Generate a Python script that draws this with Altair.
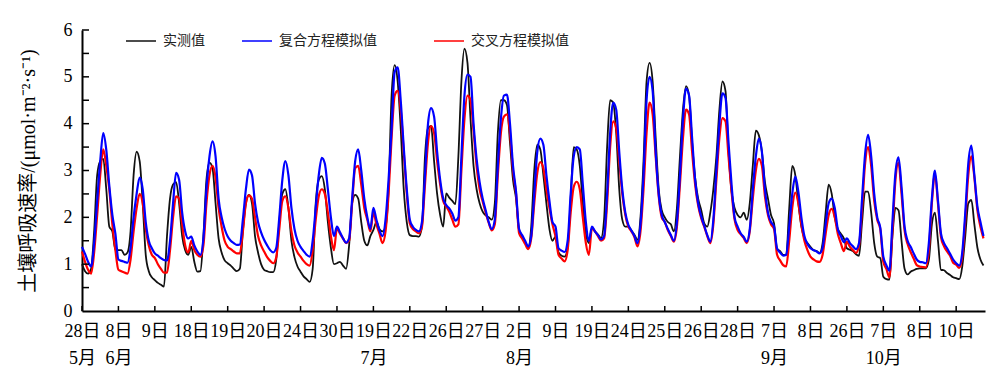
import json
import altair as alt
import pandas as pd

# ---- labels -------------------------------------------------------------
DAY_LABELS = ["28日", "8日", "9日", "18日", "19日", "20日", "24日", "30日", "19日", "22日",
              "26日", "27日", "2日", "9日", "19日", "24日", "25日", "26日", "28日", "7日",
              "8日", "26日", "7日", "8日", "10日"]
MONTH_LABELS = ["5月", "6月", "", "", "", "", "", "", "7月", "", "", "", "8月", "", "", "",
                "", "", "", "9月", "", "", "10月", "", ""]
SERIES = ["实测值", "复合方程模拟值", "交叉方程模拟值"]
COLORS = ["#111111", "#0000ff", "#ff0000"]
Y_TITLE = "土壤呼吸速率/(μmol·m⁻²·s⁻¹)"
STEP_HOURS = 2  # one reading every 2 h within each measured day

# ---- measured (black) -----------------------------------------------------
OBS = [
    [1.0, 0.85, 0.8, 0.9, 1.7, 2.9, 3.2, 3.25, 2.6, 1.8, 1.7, 1.3],
    [1.30, 1.30, 1.20, 1.25, 1.7, 2.9, 3.4, 3.2, 2.3, 1.2, 0.85, 0.72],
    [0.66, 0.6, 0.56, 0.52, 1.6, 2.4, 2.7, 2.75, 2.3, 1.6, 1.3, 1.2],
    [1.37, 1.05, 0.84, 0.85, 1.6, 2.8, 3.17, 3.05, 2.3, 1.55, 1.25, 1.08],
    [1.02, 0.97, 0.9, 0.85, 0.9, 1.7, 2.3, 2.48, 2.3, 1.6, 1.25, 1.0],
    [0.88, 0.85, 0.83, 0.83, 1.1, 1.9, 2.5, 2.6, 2.2, 1.5, 1.15, 0.95],
    [0.84, 0.74, 0.68, 0.62, 0.9, 2.3, 2.8, 2.88, 2.6, 1.9, 1.35, 1.0],
    [1.02, 1.05, 0.97, 0.9, 1.4, 2.3, 2.48, 2.4, 1.9, 1.5, 1.4, 1.6],
    [1.73, 1.9, 1.75, 1.7, 1.8, 2.6, 4.6, 5.25, 4.9, 3.9, 2.6, 1.9],
    [1.62, 1.6, 1.6, 1.59, 1.8, 3.3, 3.9, 3.95, 3.2, 2.5, 2.05, 1.8],
    [2.51, 2.42, 2.35, 2.28, 3.3, 4.9, 5.6, 5.3, 4.1, 3.1, 2.6, 2.3],
    [2.12, 2.04, 2.0, 1.95, 2.3, 3.8, 4.5, 4.5, 4.4, 3.6, 2.8, 2.4],
    [1.73, 1.6, 1.46, 1.36, 1.8, 3.0, 3.55, 3.45, 2.9, 2.3, 1.75, 1.5],
    [1.59, 1.25, 1.18, 1.16, 1.35, 2.4, 3.5, 3.45, 3.1, 2.3, 1.65, 1.45],
    [1.77, 1.7, 1.63, 1.56, 1.95, 3.5, 4.5, 4.45, 3.8, 2.6, 1.95, 1.8],
    [1.8, 1.72, 1.63, 1.52, 2.0, 3.2, 4.9, 5.3, 4.9, 3.7, 2.6, 2.15],
    [2.0, 1.9, 1.85, 1.7, 2.2, 3.3, 4.3, 4.8, 4.6, 3.6, 2.85, 2.4],
    [2.16, 1.87, 1.8, 2.1, 2.6, 3.3, 4.3, 4.9, 4.7, 3.4, 2.55, 2.2],
    [2.05, 2.0, 2.1, 1.95, 2.3, 3.1, 3.85, 3.75, 3.4, 2.75, 2.4, 2.05],
    [1.87, 1.33, 1.28, 1.2, 1.2, 2.2, 3.1, 2.9, 2.3, 1.8, 1.55, 1.45],
    [1.37, 1.3, 1.28, 1.24, 1.45, 2.1, 2.7, 2.5, 2.0, 1.75, 1.65, 1.55],
    [1.34, 1.31, 1.28, 1.21, 1.18, 1.9, 2.55, 2.55, 2.1, 1.45, 1.16, 1.13],
    [0.73, 0.68, 0.67, 1.6, 2.2, 2.15, 1.5, 0.9, 0.78, 0.84, 0.87, 0.9],
    [0.91, 0.91, 0.91, 1.09, 1.85, 2.1, 1.5, 0.88, 0.87, 0.81, 0.77, 0.72],
    [0.7, 0.68, 0.95, 1.6, 2.3, 2.37, 1.85, 1.35, 1.1, 0.97],
]

# ---- compound-equation model (blue) ---------------------------------------
COMP = [
    [1.37, 1.22, 1.05, 0.95, 1.45, 2.35, 3.2, 3.8, 3.44, 2.67, 2.05, 1.65],
    [1.10, 1.07, 1.05, 1.03, 1.35, 2.0, 2.5, 2.85, 2.6, 1.9, 1.5, 1.34],
    [1.23, 1.18, 1.13, 1.09, 1.08, 1.5, 2.3, 2.95, 2.8, 2.1, 1.7, 1.55],
    [1.59, 1.4, 1.27, 1.2, 1.55, 2.6, 3.3, 3.62, 3.3, 2.4, 2.0, 1.75],
    [1.59, 1.5, 1.45, 1.41, 1.42, 1.95, 2.6, 3.02, 2.9, 2.3, 1.9, 1.68],
    [1.52, 1.4, 1.3, 1.25, 1.35, 2.0, 2.8, 3.2, 2.9, 2.2, 1.75, 1.5],
    [1.37, 1.28, 1.2, 1.16, 1.5, 2.2, 2.9, 3.27, 3.15, 2.6, 2.0, 1.6],
    [1.8, 1.68, 1.55, 1.46, 1.55, 2.4, 3.2, 3.45, 3.0, 2.4, 2.0, 1.75],
    [2.2, 1.95, 1.72, 1.6, 1.95, 2.8, 3.9, 5.1, 5.2, 4.5, 3.5, 2.6],
    [1.95, 1.8, 1.73, 1.7, 1.9, 2.9, 4.0, 4.33, 4.15, 3.4, 2.8, 2.4],
    [2.26, 2.19, 2.08, 1.93, 2.0, 3.3, 4.6, 5.05, 5.0, 4.0, 3.25, 2.75],
    [2.4, 2.15, 1.9, 1.75, 1.95, 3.1, 4.1, 4.6, 4.62, 4.0, 3.1, 2.55],
    [1.75, 1.62, 1.5, 1.38, 1.6, 2.5, 3.4, 3.68, 3.55, 2.9, 2.35, 1.9],
    [1.8, 1.34, 1.29, 1.26, 1.5, 2.5, 3.3, 3.5, 3.45, 2.7, 1.9, 1.5],
    [1.8, 1.7, 1.62, 1.53, 1.6, 2.5, 3.8, 4.45, 4.3, 3.4, 2.6, 2.1],
    [1.84, 1.72, 1.6, 1.45, 1.85, 2.9, 4.5, 5.0, 4.7, 3.4, 2.5, 2.05],
    [1.9, 1.75, 1.62, 1.5, 1.9, 2.9, 4.1, 4.75, 4.6, 3.7, 2.8, 2.3],
    [2.02, 1.82, 1.62, 1.48, 1.95, 3.0, 4.0, 4.65, 4.55, 3.6, 2.7, 2.0],
    [1.8, 1.66, 1.58, 1.48, 1.75, 2.6, 3.3, 3.68, 3.4, 2.6, 2.1, 1.9],
    [1.8, 1.33, 1.25, 1.18, 1.2, 1.8, 2.5, 2.87, 2.55, 2.0, 1.6, 1.43],
    [1.34, 1.3, 1.27, 1.23, 1.35, 1.85, 2.3, 2.4, 2.2, 1.75, 1.6, 1.47],
    [1.55, 1.45, 1.38, 1.32, 1.45, 2.4, 3.35, 3.76, 3.3, 2.5, 2.0, 1.78],
    [1.16, 0.98, 0.86, 1.9, 2.95, 3.28, 2.65, 1.8, 1.5, 1.37, 1.23, 1.1],
    [1.05, 1.04, 1.02, 1.45, 2.4, 3.0, 2.36, 1.65, 1.45, 1.34, 1.22, 1.1],
    [1.02, 0.97, 1.25, 2.1, 3.15, 3.53, 2.9, 2.23, 1.9, 1.6],
]

# ---- cross-equation model (red) -------------------------------------------
CROSS = [
    [1.27, 1.05, 0.88, 0.8, 1.25, 2.05, 2.9, 3.45, 3.1, 2.59, 1.85, 1.3],
    [0.88, 0.85, 0.82, 0.80, 1.1, 1.7, 2.2, 2.5, 2.3, 1.75, 1.4, 1.2],
    [1.13, 1.0, 0.9, 0.82, 0.82, 1.3, 2.0, 2.45, 2.4, 1.85, 1.4, 1.25],
    [1.5, 1.3, 1.2, 1.16, 1.4, 2.3, 2.9, 3.1, 2.85, 2.2, 1.8, 1.5],
    [1.37, 1.32, 1.27, 1.23, 1.23, 1.7, 2.3, 2.47, 2.4, 2.0, 1.6, 1.4],
    [1.27, 1.15, 1.07, 1.02, 1.15, 1.75, 2.35, 2.45, 2.2, 1.7, 1.4, 1.25],
    [1.16, 1.07, 1.0, 0.97, 1.3, 1.95, 2.45, 2.6, 2.5, 2.1, 1.6, 1.3],
    [1.77, 1.65, 1.55, 1.45, 1.5, 2.3, 3.05, 3.1, 2.7, 2.2, 1.95, 1.7],
    [2.1, 1.85, 1.65, 1.45, 1.7, 2.5, 3.7, 4.6, 4.7, 4.3, 3.4, 2.5],
    [1.87, 1.75, 1.7, 1.66, 1.8, 2.7, 3.6, 3.95, 3.8, 3.2, 2.7, 2.35],
    [2.23, 2.12, 1.95, 1.8, 1.85, 3.0, 4.1, 4.6, 4.5, 3.85, 3.1, 2.6],
    [2.34, 2.1, 1.88, 1.72, 1.85, 2.9, 3.8, 4.15, 4.2, 3.8, 3.0, 2.5],
    [1.66, 1.55, 1.43, 1.32, 1.55, 2.3, 2.95, 3.18, 3.05, 2.6, 2.2, 1.85],
    [1.59, 1.2, 1.12, 1.06, 1.3, 2.1, 2.65, 2.76, 2.6, 2.0, 1.45, 1.2],
    [1.77, 1.7, 1.6, 1.5, 1.55, 2.3, 3.5, 4.05, 3.9, 3.2, 2.5, 2.05],
    [1.8, 1.7, 1.58, 1.38, 1.7, 2.6, 3.8, 4.45, 4.2, 3.3, 2.45, 2.0],
    [1.9, 1.73, 1.6, 1.48, 1.8, 2.7, 3.7, 4.3, 4.2, 3.4, 2.7, 2.25],
    [1.98, 1.8, 1.6, 1.45, 1.85, 2.8, 3.7, 4.12, 4.05, 3.3, 2.55, 1.95],
    [1.73, 1.64, 1.56, 1.45, 1.7, 2.4, 3.0, 3.25, 3.1, 2.45, 2.05, 1.85],
    [1.75, 1.2, 1.08, 0.98, 0.95, 1.5, 2.2, 2.53, 2.3, 1.85, 1.5, 1.3],
    [1.16, 1.1, 1.06, 1.05, 1.2, 1.65, 2.05, 2.18, 2.0, 1.65, 1.45, 1.28],
    [1.48, 1.37, 1.3, 1.24, 1.4, 2.2, 3.15, 3.5, 3.1, 2.35, 1.95, 1.75],
    [1.05, 0.9, 0.72, 1.7, 2.8, 3.17, 2.5, 1.72, 1.43, 1.26, 1.12, 0.98],
    [0.95, 0.94, 0.93, 1.3, 2.3, 2.93, 2.3, 1.58, 1.38, 1.27, 1.18, 1.03],
    [0.99, 0.92, 1.15, 1.95, 2.9, 3.3, 2.85, 2.15, 1.8, 1.55],
]


def to_frame(name, days):
    rows = []
    for i, day in enumerate(days):
        for j, v in enumerate(day):
            rows.append({"h": 24 * i + STEP_HOURS * j, "v": v, "s": name})
    return pd.DataFrame(rows)


df_obs = to_frame(SERIES[0], OBS)
df_comp = to_frame(SERIES[1], COMP)
df_cross = to_frame(SERIES[2], CROSS)

TICK_HOURS = [24 * i for i in range(len(DAY_LABELS))]
Y_TICKS = [k * 0.5 for k in range(1, 13)]

W, H = 903, 281
SERIF = "'Liberation Serif', 'Times New Roman', 'Noto Sans CJK SC'"

x_scale = alt.Scale(domain=[0, 595], nice=False, zero=False)
y_scale = alt.Scale(domain=[0, 6], nice=False)

D = json.dumps(DAY_LABELS, ensure_ascii=False)
M = json.dumps(MONTH_LABELS, ensure_ascii=False)
idx = "round(datum.value/24)"
label_expr = f"{M}[{idx}] ? [{D}[{idx}], {M}[{idx}]] : {D}[{idx}]"

x_axis = alt.Axis(values=TICK_HOURS, labelExpr=label_expr, ticks=False, tickSize=0,
                  grid=False, domainColor="black", domainWidth=2, labelFont=SERIF,
                  labelFontSize=18, labelColor="black", labelPadding=11,
                  labelOverlap=False, labelFlush=False, labelLineHeight=27,
                  labelBaseline="top", labelBound=False, labelSeparation=0,
                  title=None)
y_axis = alt.Axis(values=[0, 1, 2, 3, 4, 5, 6], ticks=False, tickSize=0, grid=False,
                  domainColor="black", domainWidth=2, labelFont=SERIF,
                  labelFontSize=18, labelColor="black", labelPadding=10,
                  labelOverlap=False,
                  title=Y_TITLE, titleFont=SERIF, titleFontSize=20,
                  titleFontWeight="normal", titleColor="black", titleX=-54,
                  titleY=H / 2, titleAngle=-90, titleAlign="center",
                  titleBaseline="middle")

color_scale = alt.Scale(domain=SERIES, range=COLORS)
legend = alt.Legend(orient="none", legendX=43, legendY=-5, direction="horizontal",
                    title=None, symbolType="stroke", symbolSize=900,
                    symbolStrokeWidth=1.5, labelFont="Noto Sans CJK SC",
                    labelFontSize=14, labelColor="#222222", labelOffset=6,
                    columnPadding=34, padding=0, labelLimit=400,
                    labelExpr="datum.label == '复合方程模拟值' ? datum.label + '\u2800\u2800' : datum.label")


def line_layer(df, width):
    return alt.Chart(df).mark_line(strokeWidth=width, interpolate="monotone").encode(
        x=alt.X("h:Q", scale=x_scale, axis=x_axis),
        y=alt.Y("v:Q", scale=y_scale, axis=y_axis),
        color=alt.Color("s:N", scale=color_scale, legend=legend),
    )


x_ticks = alt.Chart(pd.DataFrame({"h": TICK_HOURS})).mark_rule(
    color="black", strokeWidth=1.5).encode(
    x=alt.X("h:Q", scale=x_scale, axis=x_axis), y=alt.value(H), y2=alt.value(H - 5))
y_ticks = alt.Chart(pd.DataFrame({"v": Y_TICKS})).mark_rule(
    color="black", strokeWidth=1.5).encode(
    y=alt.Y("v:Q", scale=y_scale, axis=y_axis), x=alt.value(0), x2=alt.value(7))

chart = alt.layer(
    line_layer(df_obs, 1.8),
    line_layer(df_cross, 2.2),
    line_layer(df_comp, 2.2),
    x_ticks,
    y_ticks,
).properties(
    width=W, height=H,
    autosize=alt.AutoSizeParams(type="none"),
    padding={"left": 74, "top": 22, "right": 7, "bottom": 60},
    background="white",
).configure_view(stroke=None).configure_axis(labelOverlap=False)

chart.save("out.html", embed_options={"renderer": "svg", "actions": False})
